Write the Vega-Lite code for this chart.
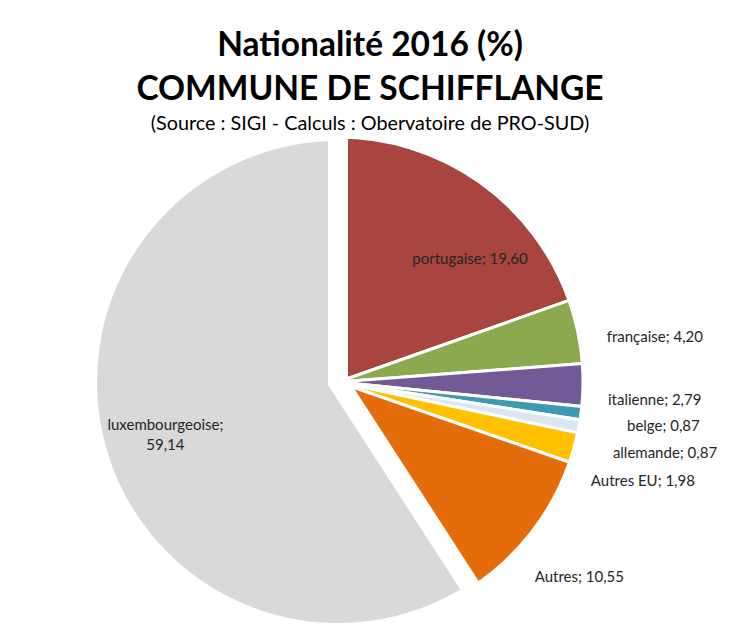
{
  "$schema": "https://vega.github.io/schema/vega-lite/v6.json",
  "width": 676,
  "height": 482,
  "padding": {"left": 0, "top": 28, "right": 0, "bottom": 0},
  "autosize": {"type": "pad"},
  "background": "white",
  "config": {"view": {"stroke": null}},
  "title": {
    "text": ["Nationalité 2016 (%)", "COMMUNE DE SCHIFFLANGE"],
    "subtitle": "(Source : SIGI - Calculs : Obervatoire de PRO-SUD)",
    "anchor": "middle",
    "frame": "group",
    "dx": 32,
    "font": "Lato",
    "fontSize": 33.5,
    "fontWeight": "bold",
    "lineHeight": 44,
    "color": "#000000",
    "subtitleFont": "Lato",
    "subtitleFontSize": 19.8,
    "subtitleFontWeight": "normal",
    "subtitleColor": "#000000",
    "subtitlePadding": 7,
    "offset": -44
  },
  "data": {
    "values": [
      {"name": "portugaise", "label": "portugaise; 19,60", "value": 19.60, "order": 1},
      {"name": "française", "label": "française; 4,20", "value": 4.20, "order": 2},
      {"name": "italienne", "label": "italienne; 2,79", "value": 2.79, "order": 3},
      {"name": "belge", "label": "belge; 0,87", "value": 0.87, "order": 4},
      {"name": "allemande", "label": "allemande; 0,87", "value": 0.87, "order": 5},
      {"name": "Autres EU", "label": "Autres EU; 1,98", "value": 1.98, "order": 6},
      {"name": "Autres", "label": "Autres; 10,55", "value": 10.55, "order": 7},
      {"name": "luxembourgeoise", "label": "luxembourgeoise;\n59,14", "value": 59.14, "order": 8}
    ]
  },
  "encoding": {
    "theta": {"field": "value", "type": "quantitative", "stack": true},
    "order": {"field": "order", "type": "quantitative"}
  },
  "layer": [
    {
      "mark": {"type": "arc", "radius": 245, "stroke": "white", "strokeWidth": 3},
      "encoding": {
        "color": {
          "field": "name", "type": "nominal", "legend": null,
          "scale": {
            "domain": ["portugaise", "française", "italienne", "belge", "allemande", "Autres EU", "Autres", "luxembourgeoise"],
            "range": ["#A8453F", "#8CA94F", "#725A96", "#3E9AB3", "#DCE6F2", "#FFC000", "#E46C0A", "#D9D9D9"]
          }
        }
      }
    },
    {
      "mark": {"type": "arc", "radius": 251, "stroke": "white", "strokeWidth": 20, "fill": "#D9D9D9"},
      "encoding": {
        "opacity": {"condition": {"test": "datum.name === 'luxembourgeoise'", "value": 1}, "value": 0}
      }
    },
    {
      "mark": {"type": "text", "radius": 180, "align": "center", "baseline": "middle", "dx": 28, "dy": 24, "font": "Lato", "fontSize": 15, "fill": "#262626"},
      "encoding": {"text": {"field": "label", "type": "nominal", "condition": {"test": "datum.name !== 'portugaise'", "value": ""}}}
    },
    {
      "mark": {"type": "text", "radius": 180, "align": "center", "baseline": "middle", "dx": 0, "dy": -8, "font": "Lato", "fontSize": 15, "fill": "#262626", "lineBreak": "\n", "lineHeight": 20},
      "encoding": {"text": {"field": "label", "type": "nominal", "condition": {"test": "datum.name !== 'luxembourgeoise'", "value": ""}}}
    },
    {
      "mark": {"type": "text", "radius": 250, "align": "left", "baseline": "middle", "dx": 24, "dy": 6, "font": "Lato", "fontSize": 15, "fill": "#262626"},
      "encoding": {"text": {"field": "label", "type": "nominal", "condition": {"test": "datum.name !== 'française'", "value": ""}}}
    },
    {
      "mark": {"type": "text", "radius": 250, "align": "left", "baseline": "middle", "dx": 20, "dy": 15, "font": "Lato", "fontSize": 15, "fill": "#262626"},
      "encoding": {"text": {"field": "label", "type": "nominal", "condition": {"test": "datum.name !== 'italienne'", "value": ""}}}
    },
    {
      "mark": {"type": "text", "radius": 250, "align": "left", "baseline": "middle", "dx": 41, "dy": 12, "font": "Lato", "fontSize": 15, "fill": "#262626"},
      "encoding": {"text": {"field": "label", "type": "nominal", "condition": {"test": "datum.name !== 'belge'", "value": ""}}}
    },
    {
      "mark": {"type": "text", "radius": 250, "align": "left", "baseline": "middle", "dx": 29, "dy": 26, "font": "Lato", "fontSize": 15, "fill": "#262626"},
      "encoding": {"text": {"field": "label", "type": "nominal", "condition": {"test": "datum.name !== 'allemande'", "value": ""}}}
    },
    {
      "mark": {"type": "text", "radius": 250, "align": "left", "baseline": "middle", "dx": 12, "dy": 32, "font": "Lato", "fontSize": 15, "fill": "#262626"},
      "encoding": {"text": {"field": "label", "type": "nominal", "condition": {"test": "datum.name !== 'Autres EU'", "value": ""}}}
    },
    {
      "mark": {"type": "text", "radius": 250, "align": "left", "baseline": "middle", "dx": 0, "dy": 41, "font": "Lato", "fontSize": 15, "fill": "#262626"},
      "encoding": {"text": {"field": "label", "type": "nominal", "condition": {"test": "datum.name !== 'Autres'", "value": ""}}}
    }
  ]
}
